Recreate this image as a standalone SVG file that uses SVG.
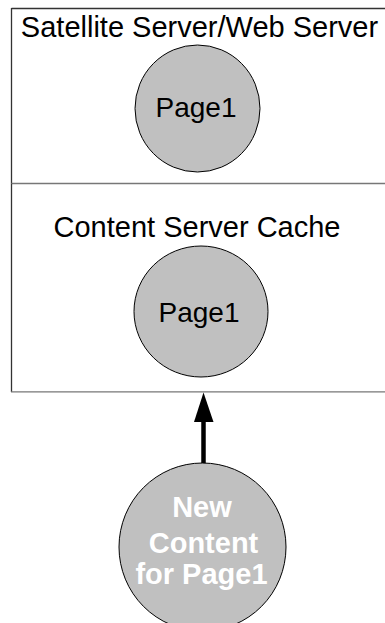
<svg xmlns="http://www.w3.org/2000/svg" width="385" height="623" viewBox="0 0 385 623">
<style>
.lbl{font-family:"Liberation Sans",Arial,sans-serif;font-size:29px;fill:#000;text-anchor:middle}
.pg{font-family:"Liberation Sans",Arial,sans-serif;font-size:28px;fill:#000;text-anchor:middle}
.wl{font-family:"Liberation Sans",Arial,sans-serif;font-size:29px;font-weight:bold;fill:#fff;text-anchor:middle}
.page{fill:#c0c0c0;stroke:#000;stroke-width:1}
.edge{stroke:#333;stroke-width:1.3;fill:none}
.sep{stroke:#777;stroke-width:1.3;fill:none}
</style>
<rect width="385" height="623" fill="#fff"/>
<g id="satellite-server">
<line class="edge" x1="11.5" y1="8.5" x2="390" y2="8.5"/>
<line class="edge" x1="11.5" y1="8" x2="11.5" y2="183.5"/>
<text class="lbl" x="199.5" y="36.5">Satellite Server/Web Server</text>
</g>
<g id="page1-web">
<ellipse class="page" cx="197.5" cy="108.5" rx="62.5" ry="63.5"/>
<text class="pg" x="196" y="117.3">Page1</text>
</g>
<g id="content-server-cache">
<line class="sep" x1="11.5" y1="183.5" x2="390" y2="183.5"/>
<line class="edge" x1="11.5" y1="183.5" x2="11.5" y2="392"/>
<line class="sep" x1="11" y1="391.8" x2="390" y2="391.8"/>
<text class="lbl" x="197" y="237">Content Server Cache</text>
</g>
<g id="page1-cache">
<ellipse class="page" cx="201" cy="311.5" rx="67" ry="65.5"/>
<text class="pg" x="199" y="321.7">Page1</text>
</g>
<g id="connectors">
<line x1="203.5" y1="464" x2="203.5" y2="420" stroke="#000" stroke-width="4.5"/>
<polygon points="203.5,392.5 194,422 213.5,422" fill="#000"/>
</g>
<g id="new-content">
<ellipse class="page" cx="202.5" cy="547" rx="83.5" ry="84"/>
<text class="wl" x="202" y="516.5">New</text>
<text class="wl" x="203.5" y="552.5">Content</text>
<text class="wl" x="201.5" y="584.3">for Page1</text>
</g>
</svg>
